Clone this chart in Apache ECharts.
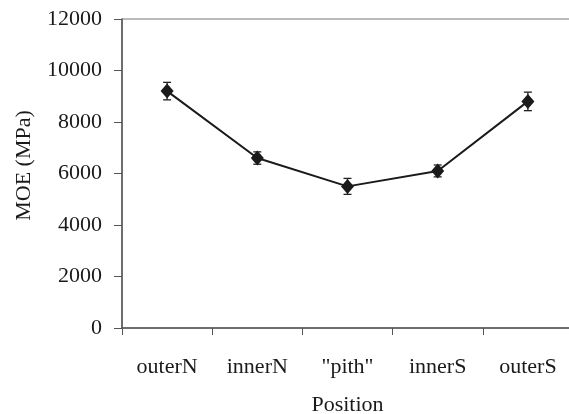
<!DOCTYPE html>
<html>
<head>
<meta charset="utf-8">
<script src="https://cdn.jsdelivr.net/npm/echarts@6/dist/echarts.min.js"></script>
<style>html,body{margin:0;padding:0;background:#fff}#c{width:569px;height:414px}</style>
</head>
<body>
<div id="c"></div>
<script>
const categories = ['outerN', 'innerN', '"pith"', 'innerS', 'outerS'];
const moeValues = [9200, 6600, 5500, 6100, 8800];
const moeErrors = [340, 240, 310, 230, 360];
const yTicks = [0, 2000, 4000, 6000, 8000, 10000, 12000];

const font = 'Liberation Serif, Times New Roman, serif';
const chart = echarts.init(document.getElementById('c'));
const errData = categories.map((c, i) => [i, moeValues[i] - moeErrors[i], moeValues[i] + moeErrors[i]]);

chart.setOption({
  animation: false,
  grid: { left: 122, right: -4, top: 19, bottom: 86, show: true, borderColor: '#777', borderWidth: 1, containLabel: false, outerBoundsMode: 'none' },
  xAxis: {
    type: 'category',
    data: categories,
    boundaryGap: true,
    name: 'Position',
    nameLocation: 'middle',
    nameGap: 66,
    nameTextStyle: { fontFamily: font, fontSize: 22, color: '#1a1a1a' },
    axisLine: { lineStyle: { color: '#555', width: 1.5 } },
    axisTick: { show: true, length: 7, lineStyle: { color: '#555' } },
    axisLabel: { fontFamily: font, fontSize: 22, color: '#1a1a1a', margin: 28 },
    splitLine: { show: false }
  },
  yAxis: {
    type: 'value',
    min: yTicks[0],
    max: yTicks[yTicks.length - 1],
    interval: 2000,
    name: 'MOE (MPa)',
    nameLocation: 'middle',
    nameGap: 87,
    nameTextStyle: { fontFamily: font, fontSize: 22, color: '#1a1a1a', padding: [0, 0, 0, 16] },
    axisLine: { show: true, lineStyle: { color: '#555', width: 1.5 } },
    axisTick: { show: true, length: 8, lineStyle: { color: '#555' } },
    axisLabel: { fontFamily: font, fontSize: 22, color: '#1a1a1a', margin: 20, formatter: v => String(v) },
    splitLine: { show: false }
  },
  series: [
    {
      type: 'custom',
      data: errData,
      z: 3,
      renderItem: function (params, api) {
        const x = api.coord([api.value(0), 0])[0];
        const lo = api.coord([api.value(0), api.value(1)])[1];
        const hi = api.coord([api.value(0), api.value(2)])[1];
        const w = 4;
        const st = { stroke: '#222', lineWidth: 1.3 };
        return {
          type: 'group',
          children: [
            { type: 'line', shape: { x1: x, y1: lo, x2: x, y2: hi }, style: st },
            { type: 'line', shape: { x1: x - w, y1: lo, x2: x + w, y2: lo }, style: st },
            { type: 'line', shape: { x1: x - w, y1: hi, x2: x + w, y2: hi }, style: st }
          ]
        };
      }
    },
    {
      type: 'line',
      data: moeValues,
      z: 4,
      symbol: 'diamond',
      symbolSize: [13, 15],
      lineStyle: { color: '#1a1a1a', width: 2 },
      itemStyle: { color: '#1a1a1a' }
    }
  ]
});
</script>
</body>
</html>
